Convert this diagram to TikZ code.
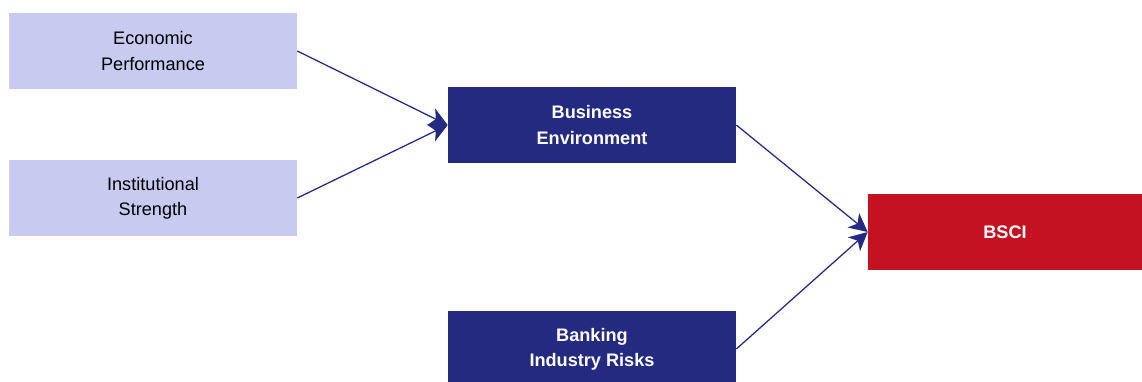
\documentclass[tikz,border=0pt]{standalone}
\usepackage{fontspec}
\setmainfont{Liberation Sans}
\usetikzlibrary{arrows.meta}
\definecolor{lightbox}{RGB}{200,202,240}
\definecolor{darkbox}{RGB}{36,42,128}
\definecolor{redbox}{RGB}{196,18,34}
\tikzset{
	factor/.style={fill=lightbox, minimum width=7.2cm, minimum height=1.9cm, align=center, font=\fontsize{12.9}{18}\selectfont},
	pillar/.style={fill=darkbox, text=white, minimum width=7.2cm, minimum height=1.9cm, align=center, font=\fontsize{12.9}{18}\selectfont\bfseries},
	index/.style={fill=redbox, text=white, minimum width=6.85cm, minimum height=1.9cm, align=center, font=\fontsize{12.9}{18}\selectfont\bfseries},
	link/.style={draw=darkbox, line width=0.9pt, -{Stealth[length=4.6mm,width=4.6mm,inset=1.3mm]}}
}
\begin{document}
\begin{tikzpicture}[x=0.025cm, y=-0.025cm]
			%%%%% START %%%%%
			\useasboundingbox (0, 0) rectangle (1142, 381);
			
			\node[factor] (eco) at (153, 51) {Economic\\Performance};
			\node[factor] (inst) at (153, 198) {Institutional\\Strength};
			
			\node[pillar] (biz) at (592, 125) {Business\\Environment};
			\node[pillar] (bank) at (592, 349) {Banking\\Industry Risks};
			
			\node[index] (bsci) at (1005, 232) {BSCI};
			
			\draw[link] (eco.east) -- (biz.west);
			\draw[link] (inst.east) -- (biz.west);
			\draw[link] (biz.east) -- (bsci.west);
			\draw[link] (bank.east) -- (bsci.west);
			
			%%%%% END %%%%%
\end{tikzpicture}
\end{document}
